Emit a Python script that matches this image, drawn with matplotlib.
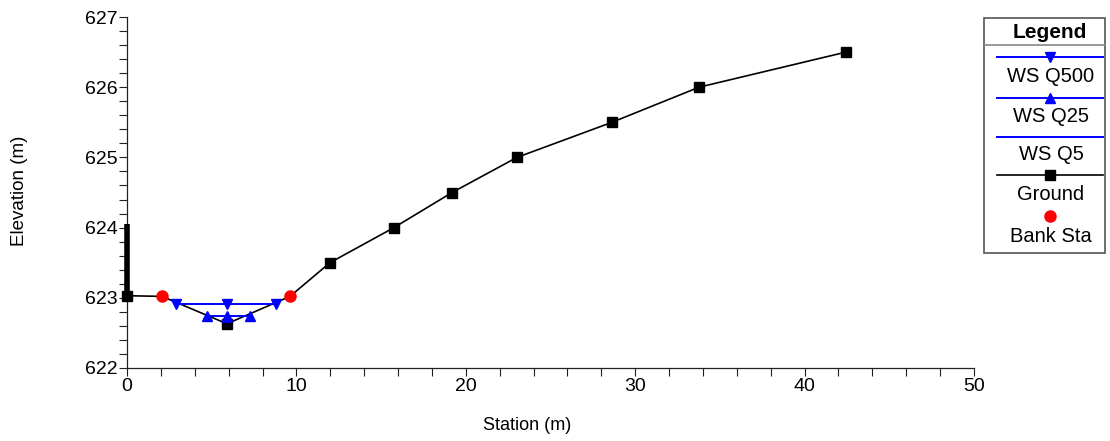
import matplotlib
matplotlib.use("Agg")
import matplotlib.pyplot as plt
from matplotlib.ticker import MultipleLocator

plt.rcParams['font.family'] = ['Liberation Sans', 'DejaVu Sans']

# Ground profile (station, elevation)
ground_sta = [0.0, 2.07, 5.9, 9.62, 11.98, 15.76, 19.19, 23.02, 28.63, 33.77, 42.44]
ground_elev = [623.03, 623.02, 622.63, 623.02, 623.50, 624.00, 624.50, 625.00, 625.50, 626.00, 626.50]

# Vertical wall at the left edge of the section
wall_sta = [0.0, 0.0]
wall_elev = [623.03, 624.05]

# Bank stations
bank_sta = [2.07, 9.62]
bank_elev = [623.02, 623.02]

# Water surfaces
ws_q500_sta = [2.9, 5.9, 8.8]
ws_q500_elev = [622.91, 622.91, 622.91]
ws_q25_sta = [4.7, 5.9, 7.26]
ws_q25_elev = [622.74, 622.74, 622.74]
ws_q5_sta = [5.65, 6.15]
ws_q5_elev = [622.65, 622.65]

legend_labels = ["WS Q500", "WS Q25", "WS Q5", "Ground", "Bank Sta"]

W, H = 1110, 441
fig = plt.figure(figsize=(W / 100, H / 100), dpi=100)
ax = fig.add_axes([127 / W, 1 - 368 / H, (974 - 127) / W, (368 - 17) / H])

blue = "#0000ff"
ax.plot(ws_q500_sta, ws_q500_elev, color=blue, lw=1.4, marker="v", ms=7, zorder=4, clip_on=False)
ax.plot(ws_q25_sta, ws_q25_elev, color=blue, lw=1.4, marker="^", ms=7, zorder=4, clip_on=False)
ax.plot(ws_q5_sta, ws_q5_elev, color=blue, lw=1.4, zorder=4, clip_on=False)

# ground points that coincide with bank stations are shown by the bank markers
ground_marks = [i for i, s in enumerate(ground_sta) if s not in bank_sta]
ax.plot(ground_sta, ground_elev, color="black", lw=1.2, marker="s", ms=6.5,
        markevery=ground_marks, zorder=3, clip_on=False)
ax.plot(wall_sta, wall_elev, color="black", lw=4, solid_capstyle="butt", zorder=3, clip_on=False)
ax.plot(bank_sta, bank_elev, color="red", lw=0, marker="o", ms=8, zorder=5, clip_on=False)

ax.set_xlim(0, 50)
ax.set_ylim(622, 627)
ax.xaxis.set_major_locator(MultipleLocator(10))
ax.xaxis.set_minor_locator(MultipleLocator(2))
ax.yaxis.set_major_locator(MultipleLocator(1))
ax.yaxis.set_minor_locator(MultipleLocator(0.2))
for s in ["top", "right"]:
    ax.spines[s].set_visible(False)
for s in ["left", "bottom"]:
    ax.spines[s].set_linewidth(0.9)
    ax.spines[s].set_color("#222222")
ax.tick_params(which="both", direction="out", length=6, width=0.8, color="#222222",
               labelsize=14, pad=1)
ax.yaxis.set_major_formatter(matplotlib.ticker.FormatStrFormatter("%d"))

fig.text(527 / W, 1 - 425 / H, "Station (m)", ha="center", va="center", fontsize=13)
fig.text(20 / W, 1 - 191 / H, "Elevation (m)", ha="center", va="center", fontsize=13.5, rotation=90)

# Legend panel drawn in pixel coordinates
lg = fig.add_axes([0, 0, 1, 1])
lg.set_xlim(0, W)
lg.set_ylim(H, 0)
lg.axis("off")
lg.add_patch(plt.Rectangle((984, 18), 121, 235, fill=False, ec="#555555", lw=1.2))
lg.plot([984, 1105], [45, 45], color="#888888", lw=1.2)
lg.text(1050, 32, "Legend", ha="center", va="center", fontsize=15, fontweight="bold")

x0, x1, xm = 997, 1103, 1050
entries = [
    (57, 77, dict(color=blue, lw=1.4), dict(marker="v", color=blue, ms=7)),
    (98, 117, dict(color=blue, lw=1.4), dict(marker="^", color=blue, ms=7)),
    (137, 155, dict(color=blue, lw=1.4), None),
    (175, 195, dict(color="black", lw=1.2), dict(marker="s", color="black", ms=6.5)),
    (216, 236, None, dict(marker="o", color="red", ms=8)),
]
for (ly, ty, line_kw, mk_kw), label in zip(entries, legend_labels):
    if line_kw:
        lg.plot([x0, x1], [ly, ly], **line_kw)
    if mk_kw:
        lg.plot([xm], [ly], lw=0, **mk_kw)
    lg.text(1051, ty, label, ha="center", va="center", fontsize=14.5)

fig.savefig("out.png", dpi=100)
